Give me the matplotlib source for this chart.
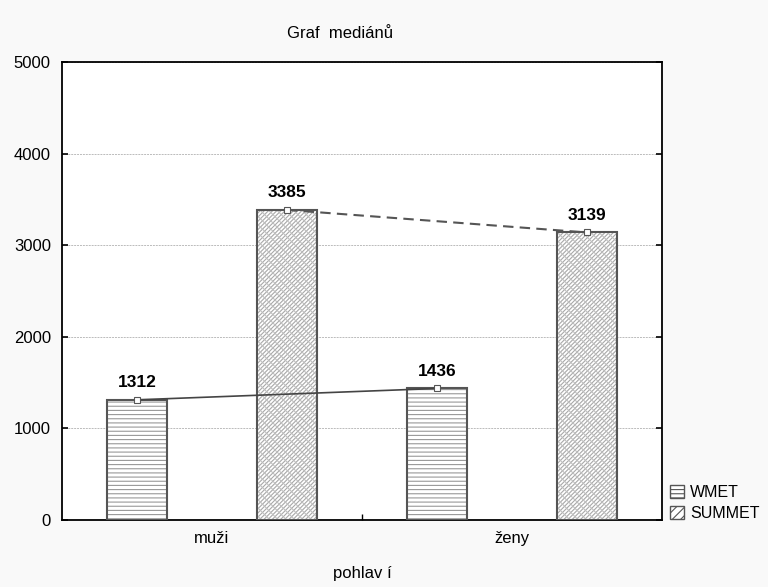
import matplotlib
matplotlib.use("Agg")
import matplotlib.pyplot as plt
from matplotlib.patches import Patch
import numpy as np

categories = ["muži", "ženy"]
series_names = ["WMET", "SUMMET"]
wmet = [1312, 1436]
summet = [3385, 3139]
yticks = [0, 1000, 2000, 3000, 4000, 5000]

plt.rcParams['font.family'] = ['Liberation Sans', 'DejaVu Sans']
plt.rcParams['hatch.linewidth'] = 0.8

fig = plt.figure(figsize=(7.68, 5.87), dpi=100, facecolor='#f9f9f9')
ax = fig.add_axes([62/768, 1-520/587, 600/768, 458/587])
ax.set_facecolor('white')

x = np.arange(len(categories))
w = 0.2
off = 0.25
hatches = ['----', '////////']
edge = '#555555'
hcol = ['#999999', '#a8a8a8']
for i, (vals, name) in enumerate(zip([wmet, summet], series_names)):
    pos = x + (off if i == 1 else -off)
    ax.bar(pos, vals, w, color='white', edgecolor=hcol[i], hatch=hatches[i], linewidth=0, zorder=2)
    if i == 1:
        ax.bar(pos, vals, w, color='none', edgecolor='#c0c0c0', hatch='\\\\\\\\', linewidth=0, zorder=2)
    ax.bar(pos, vals, w, color='none', edgecolor=edge, linewidth=1.5, zorder=3)
    ls = '-' if i == 0 else (0, (5, 3))
    ax.plot(pos, vals, linestyle=ls, color='#444444' if i == 0 else '#555555', lw=1.2 if i == 0 else 1.5, zorder=4,
            marker='s', markersize=5, markerfacecolor='white', markeredgecolor='#555555', markeredgewidth=0.8)
    for p, v in zip(pos, vals):
        ax.annotate(str(v), (p, v), xytext=(0, 7), textcoords='offset points', ha='center', va='bottom',
                    fontsize=12.5, fontweight='bold', color='black', zorder=5)

ax.set_xlim(-0.5, 1.5)
ax.set_ylim(0, 5000)
ax.set_yticks(yticks)
ax.set_yticklabels([str(t) for t in yticks], fontsize=12)
ax.set_xticks(x)
ax.set_xticklabels(categories, fontsize=12)
ax.set_xticks([0.5], minor=True)
ax.tick_params(axis='x', which='major', length=0, pad=8)
ax.tick_params(axis='x', which='minor', direction='in', length=4, width=1)
ax.tick_params(axis='y', direction='in', length=4, width=1.2, right=True, pad=8)
for s in ax.spines.values():
    s.set_linewidth(1.3)
    s.set_color('black')
ax.grid(axis='y', linestyle=(0, (2, 1)), color='#bbbbbb', lw=0.7, zorder=1)
ax.set_axisbelow(True)

ax.set_xlabel("pohlav í", fontsize=12, labelpad=14)
fig.text(340/768, 1-33/587, "Graf  mediánů", ha='center', va='center', fontsize=12)

handles = [Patch(facecolor='white', edgecolor='#555555', hatch=hatches[0], linewidth=1),
           Patch(facecolor='white', edgecolor='#555555', hatch='////', linewidth=1)]
fig.legend(handles, series_names, loc='upper left', bbox_to_anchor=(670/768, 1-485/587),
           frameon=False, fontsize=11.5, handlelength=0.85, handleheight=0.85, handletextpad=0.4,
           labelspacing=0.4, borderpad=0.0, borderaxespad=0.0)

fig.savefig("out.png", dpi=100, facecolor=fig.get_facecolor())
